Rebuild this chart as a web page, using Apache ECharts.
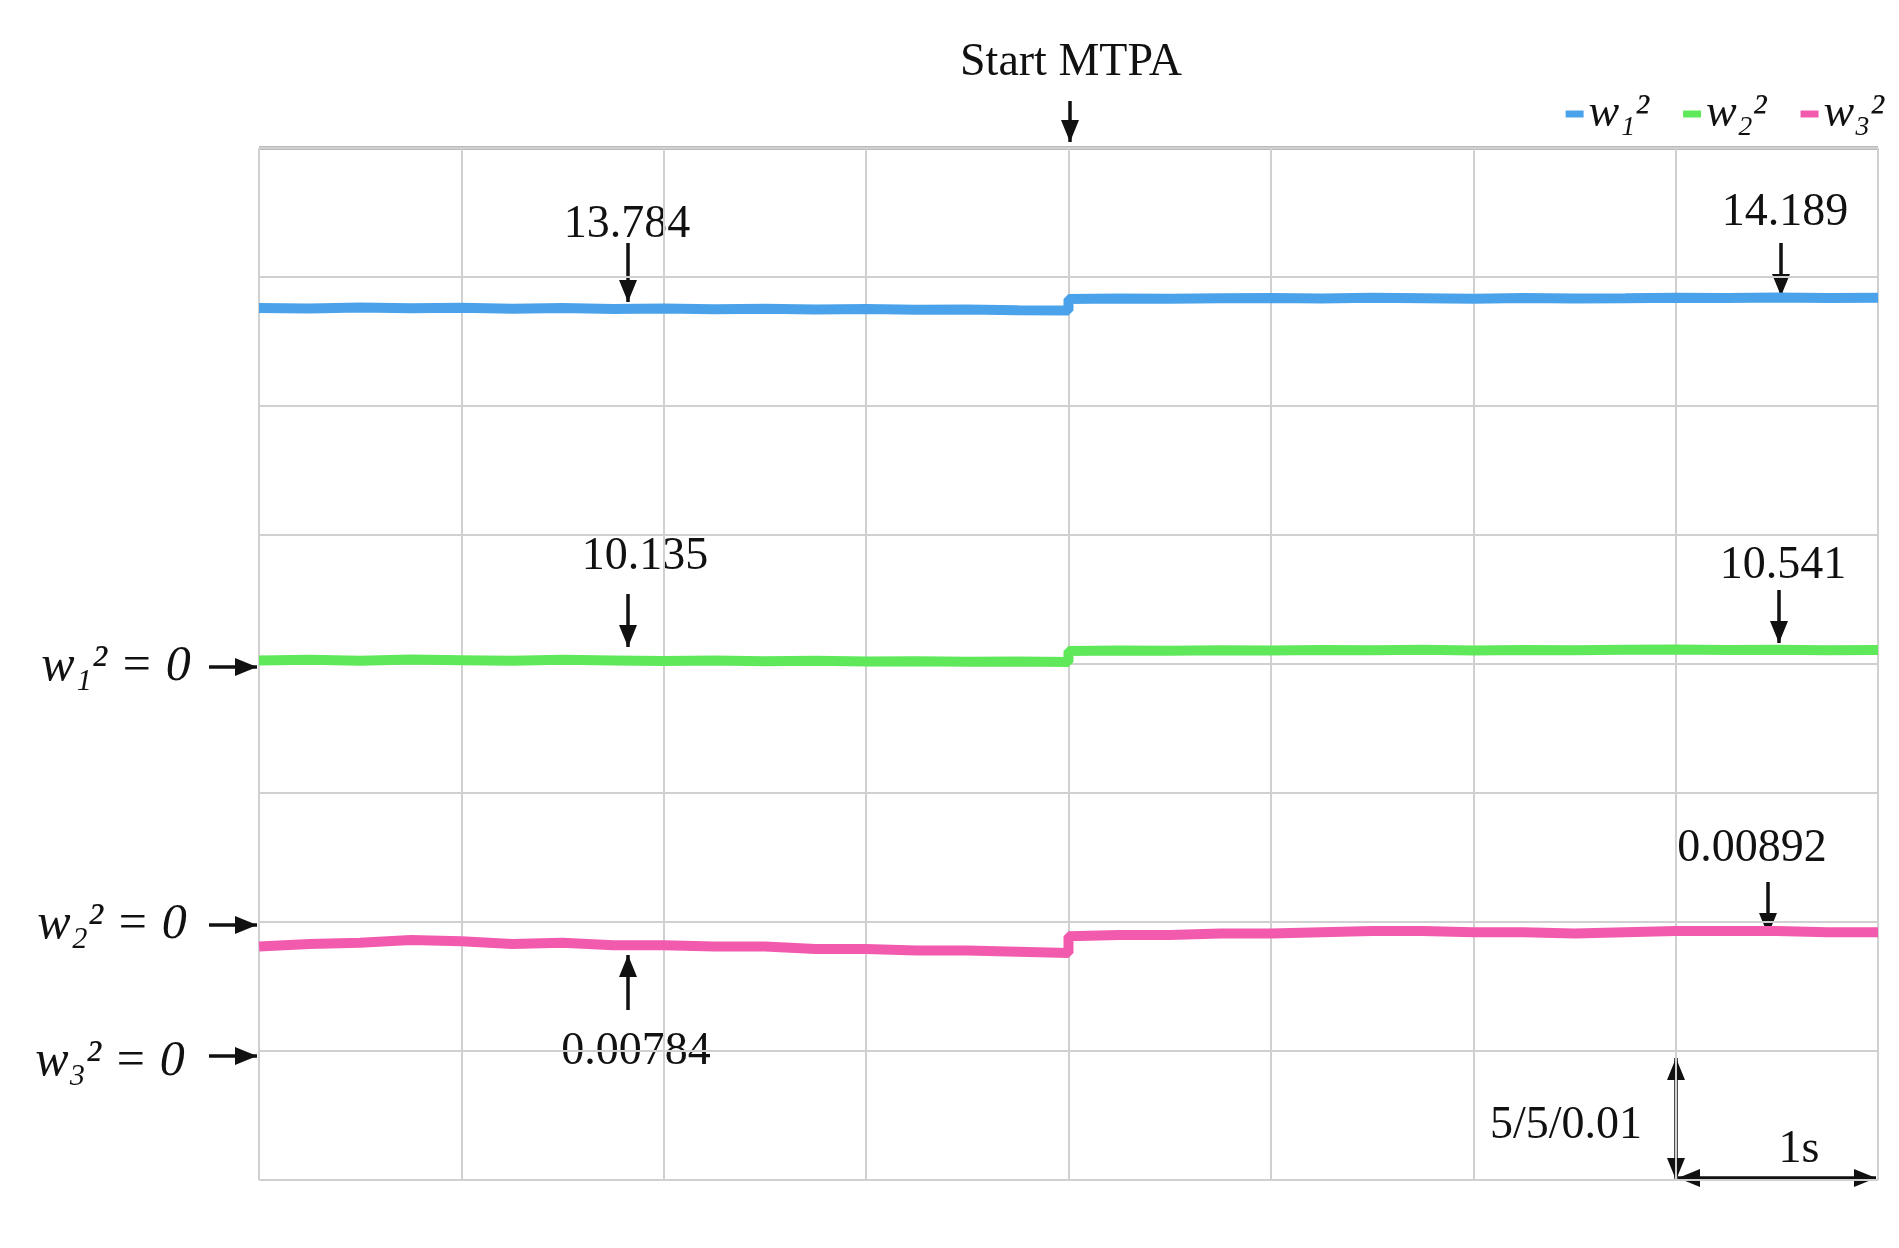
<!DOCTYPE html>
<html><head><meta charset="utf-8">
<script src="https://cdn.jsdelivr.net/npm/echarts@6/dist/echarts.min.js"></script>
<style>html,body{margin:0;background:#fff}#c{width:1899px;height:1248px}</style>
</head><body><div id="c"></div>
<script>
const time = [0,0.25,0.5,0.75,1,1.25,1.5,1.75,2,2.25,2.5,2.75,3,3.25,3.5,3.75,4,4,4.25,4.5,4.75,5,5.25,5.5,5.75,6,6.25,6.5,6.75,7,7.25,7.5,7.75,8];
const w1 = [13.80,13.78,13.82,13.79,13.81,13.77,13.80,13.76,13.78,13.75,13.77,13.74,13.76,13.73,13.74,13.71,13.70,14.15,14.17,14.16,14.18,14.19,14.17,14.20,14.18,14.16,14.19,14.17,14.18,14.20,14.19,14.21,14.19,14.20];
const w2 = [10.14,10.16,10.13,10.17,10.15,10.13,10.16,10.14,10.12,10.14,10.11,10.13,10.10,10.11,10.09,10.10,10.08,10.50,10.52,10.51,10.53,10.52,10.54,10.53,10.55,10.52,10.54,10.53,10.55,10.56,10.54,10.55,10.53,10.54];
const w3 = [0.0081,0.0083,0.0084,0.0086,0.0085,0.0083,0.0084,0.0082,0.0082,0.0081,0.0081,0.0079,0.0079,0.0078,0.0078,0.0077,0.0076,0.0089,0.0090,0.0090,0.0091,0.0091,0.0092,0.0093,0.0093,0.0092,0.0092,0.0091,0.0092,0.0093,0.0093,0.0093,0.0092,0.0092];
const seriesNames = ['w₁²','w₂²','w₃²'];
const colors = ['#4aa3ea','#5ee85a','#f25aae'];
const pair = a => time.map((t,i)=>[t,a[i]]);
const serif = 'Liberation Serif';
const txt = (x,y,s,size,align,style) => ({type:'text',x,y,style:{text:s,font:`${style||''} ${size||46}px "${serif}"`,fill:'#111',textAlign:align||'center',textVerticalAlign:'middle'}});
const arrow = (x1,y1,x2,y2) => {
  const els=[{type:'line',shape:{x1,y1,x2,y2},style:{stroke:'#111',lineWidth:3.5}}];
  const ang=Math.atan2(y2-y1,x2-x1),L=22,W=9;
  els.push({type:'polygon',shape:{points:[[x2,y2],[x2-L*Math.cos(ang)+W*Math.sin(ang),y2-L*Math.sin(ang)-W*Math.cos(ang)],[x2-L*Math.cos(ang)-W*Math.sin(ang),y2-L*Math.sin(ang)+W*Math.cos(ang)]]},style:{fill:'#111'}});
  return els;
};
const yAx = (min,max,show) => ({type:'value',min,max,interval:(max-min)/8,axisLabel:{show:false},axisTick:{show:false},axisLine:{show:false},splitLine:{show:show,lineStyle:{color:'#d0d0d0',width:2}}});
const chart = echarts.init(document.getElementById('c'));
chart.setOption({
  animation:false,
  grid:{left:259,right:21,top:148,bottom:68},
  legend:{right:10,top:86,itemWidth:18,itemHeight:7,itemGap:34,icon:'rect',
    textStyle:{fontFamily:serif,fontStyle:'italic',fontSize:46,color:'#111'},
    data:seriesNames},
  xAxis:{type:'value',min:0,max:8,interval:1,axisLabel:{show:false},axisTick:{show:false},axisLine:{show:false},
    splitLine:{show:true,lineStyle:{color:'#d0d0d0',width:2}}},
  yAxis:[yAx(-20,20,true),yAx(-10,30,false),yAx(-0.01,0.07,false)],
  series:[0,1,2].map(i=>({name:seriesNames[i],type:'line',yAxisIndex:i,data:pair([w1,w2,w3][i]),
    showSymbol:false,lineStyle:{color:colors[i],width:10},itemStyle:{color:colors[i]}})),
  graphic:[
    {type:'line',shape:{x1:259,y1:148,x2:1878,y2:148},style:{stroke:'#777',lineWidth:3}},
    txt(1071,63,'Start MTPA'), ...arrow(1070,101,1070,142),
    txt(627,225,'13.784'), ...arrow(628,243,628,302),
    txt(1785,213,'14.189'), ...arrow(1781,243,1781,296),
    txt(645,557,'10.135'), ...arrow(628,594,628,647),
    txt(1783,566,'10.541'), ...arrow(1779,590,1779,643),
    txt(1752,849,'0.00892'), ...arrow(1768,882,1768,935),
    txt(636,1052,'0.00784'), ...arrow(628,1010,628,955),
    txt(116,667,'w₁² = 0',50,'center','italic'), ...arrow(209,667,257,667),
    txt(112,925,'w₂² = 0',50,'center','italic'), ...arrow(209,925,257,925),
    txt(110,1062,'w₃² = 0',50,'center','italic'), ...arrow(209,1056,257,1056),
    ...arrow(1676,1120,1676,1058), ...arrow(1676,1120,1676,1180),
    ...arrow(1740,1178,1678,1178), ...arrow(1740,1178,1876,1178),
    txt(1566,1126,'5/5/0.01'), txt(1799,1150,'1s')
  ]
});
</script></body></html>
